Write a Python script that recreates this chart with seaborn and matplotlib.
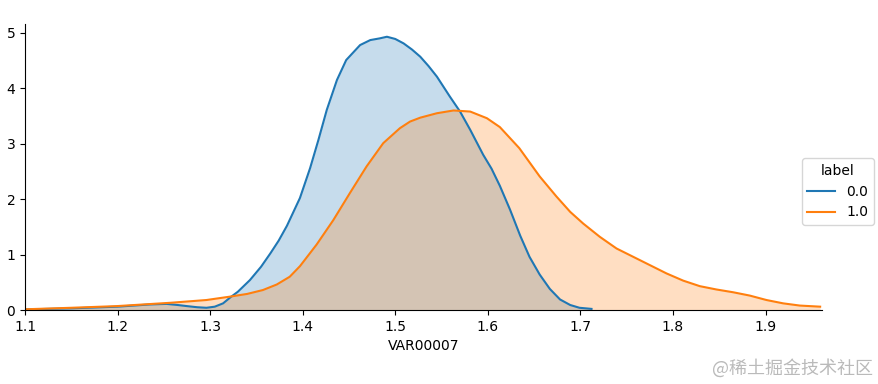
import numpy as np
import pandas as pd
import matplotlib
matplotlib.use("Agg")
import matplotlib.pyplot as plt
import seaborn as sns

# Density curves (x value, density)
x_label0 = [1.100, 1.150, 1.200, 1.235, 1.253, 1.265, 1.275, 1.286, 1.296, 1.305, 1.314,
            1.322, 1.330, 1.343, 1.355, 1.365, 1.374, 1.383, 1.397, 1.408, 1.417, 1.426,
            1.437, 1.447, 1.462, 1.473, 1.483, 1.491, 1.500, 1.509, 1.518, 1.527, 1.536,
            1.545, 1.559, 1.570, 1.581, 1.595, 1.604, 1.613, 1.624, 1.635, 1.645, 1.656,
            1.667, 1.678, 1.689, 1.699, 1.712]
y_label0 = [0.01, 0.03, 0.06, 0.10, 0.11, 0.09, 0.07, 0.05, 0.04, 0.06, 0.12,
            0.23, 0.33, 0.54, 0.78, 1.02, 1.25, 1.52, 2.02, 2.56, 3.07, 3.61,
            4.15, 4.51, 4.78, 4.87, 4.90, 4.93, 4.89, 4.81, 4.70, 4.57, 4.40,
            4.21, 3.85, 3.58, 3.25, 2.80, 2.55, 2.24, 1.81, 1.34, 0.96, 0.64,
            0.38, 0.19, 0.09, 0.04, 0.02]

x_label1 = [1.095, 1.150, 1.199, 1.257, 1.296, 1.321, 1.340, 1.357, 1.372, 1.386, 1.397,
            1.415, 1.433, 1.451, 1.469, 1.487, 1.505, 1.516, 1.527, 1.545, 1.563,
            1.581, 1.599, 1.613, 1.634, 1.656, 1.674, 1.689, 1.703, 1.721, 1.739,
            1.757, 1.775, 1.793, 1.811, 1.829, 1.847, 1.865, 1.883, 1.901, 1.919,
            1.937, 1.959]
y_label1 = [0.01, 0.04, 0.07, 0.13, 0.18, 0.24, 0.29, 0.36, 0.46, 0.60, 0.79,
            1.18, 1.62, 2.11, 2.59, 3.01, 3.28, 3.40, 3.47, 3.55, 3.60,
            3.58, 3.46, 3.30, 2.92, 2.41, 2.05, 1.77, 1.56, 1.32, 1.11,
            0.96, 0.81, 0.66, 0.53, 0.43, 0.37, 0.32, 0.26, 0.18, 0.12,
            0.08, 0.06]

labels = ["0.0", "1.0"]
x_ticks = [1.1, 1.2, 1.3, 1.4, 1.5, 1.6, 1.7, 1.8, 1.9]
y_ticks = [0, 1, 2, 3, 4, 5]

df = pd.concat([
    pd.DataFrame({"VAR00007": x_label0, "density": y_label0, "label": labels[0]}),
    pd.DataFrame({"VAR00007": x_label1, "density": y_label1, "label": labels[1]}),
])

palette = sns.color_palette("tab10", 2)

fig = plt.figure(figsize=(8.79, 3.84), dpi=100)
ax = fig.add_axes([25/879, 1-310/384, (822-25)/879, (310-24)/384])

sns.lineplot(data=df, x="VAR00007", y="density", hue="label", palette=palette,
             ax=ax, legend=False, linewidth=1.5)
for lab, col in zip(labels, palette):
    sub = df[df["label"] == lab]
    ax.fill_between(sub["VAR00007"], sub["density"], 0, color=col, alpha=0.25, linewidth=0)

ax.set_xlim(1.1, 1.961)
ax.set_ylim(0, 5.16)
ax.set_xticks(x_ticks)
ax.set_yticks(y_ticks)
ax.set_xlabel("VAR00007")
ax.set_ylabel("")
sns.despine(ax=ax)

handles = [plt.Line2D([], [], color=c, linewidth=1.5) for c in palette]
fig.legend(handles, labels, title="label", loc="center left",
           bbox_to_anchor=(795/879, 1-191.5/384))

fig.text(873/879, 1-368/384, "@稀土掘金技术社区", ha="right", va="center",
         fontsize=13, color="#bababa",
         family=["Noto Sans CJK SC", "DejaVu Sans"])

fig.savefig("out.png", dpi=100)
